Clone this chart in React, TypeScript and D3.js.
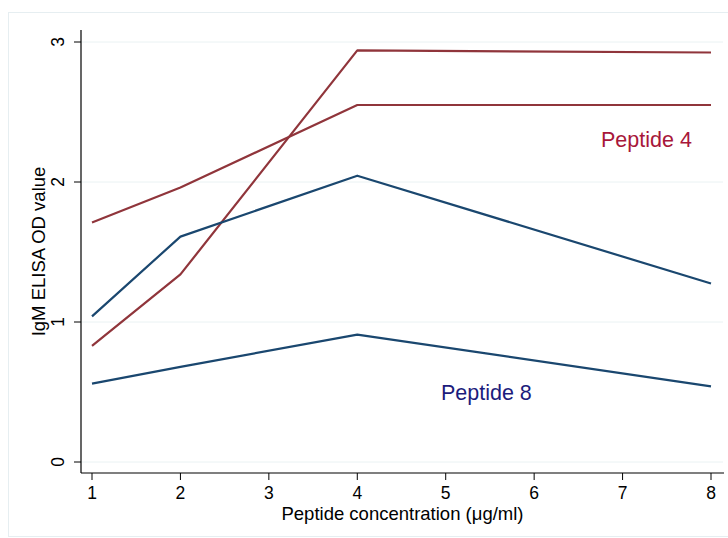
import * as d3 from "d3";

const conc = [1, 2, 4, 8];
const xTicks = [1, 2, 3, 4, 5, 6, 7, 8];
const yTicks = [0, 1, 2, 3];

// two runs per peptide, OD
const pep4a = [0.83, 1.34, 2.94, 2.925];
const pep4b = [1.71, 1.96, 2.55, 2.55];
const pep8a = [1.04, 1.61, 2.045, 1.275];
const pep8b = [0.56, 0.68, 0.91, 0.54];

const RED = "#90353b";
const BLUE = "#1a476f";

const x = d3.scaleLinear().domain([1, 8]).range([92, 711]);
const y = d3.scaleLinear().domain([0, 3]).range([462, 42]);

const line = d3.line<number>()
  .x((_v, i) => x(conc[i]))
  .y((v) => y(v));

const series = [
  { vals: pep4a, color: RED },
  { vals: pep4b, color: RED },
  { vals: pep8a, color: BLUE },
  { vals: pep8b, color: BLUE },
];

export default function App() {
  const left = 81, right = 724, top = 30, bottom = 473;
  const font = "'Liberation Sans', Arial, sans-serif";
  return (
    <svg width={728} height={538} style={{ position: "absolute", left: 0, top: 0 }} fontFamily={font}>
      <rect x={0} y={0} width={728} height={538} fill="#fff" />
      <rect x={8.5} y={12.5} width={740} height={524} fill="none" stroke="#e6eef1" strokeWidth={1} />
      {yTicks.map((t) => (
        <line key={"g" + t} x1={left} x2={right - 1} y1={y(t)} y2={y(t)} stroke="#eaf2f3" strokeWidth={1} />
      ))}
      {series.map((s, i) => (
        <path key={i} d={line(s.vals) || ""} fill="none" stroke={s.color} strokeWidth={2.2} strokeLinejoin="round" />
      ))}
      {/* y axis */}
      <line x1={left} x2={left} y1={top} y2={bottom} stroke="#000" strokeWidth={1.2} />
      {yTicks.map((t) => (
        <g key={"y" + t}>
          <line x1={left - 7} x2={left} y1={y(t)} y2={y(t)} stroke="#000" strokeWidth={1} />
          <text transform={`translate(64,${y(t)}) rotate(-90)`} textAnchor="middle" fontSize={17.5} fill="#000">{t}</text>
        </g>
      ))}
      <text transform={`translate(45,${(top + bottom) / 2}) rotate(-90)`} textAnchor="middle" fontSize={18.5} fill="#000">IgM ELISA OD value</text>
      {/* x axis */}
      <line x1={left} x2={right} y1={bottom} y2={bottom} stroke="#000" strokeWidth={1.2} />
      {xTicks.map((t) => (
        <g key={"x" + t}>
          <line x1={x(t)} x2={x(t)} y1={bottom} y2={bottom + 7} stroke="#000" strokeWidth={1} />
          <text x={x(t)} y={499} textAnchor="middle" fontSize={17.5} fill="#000">{t}</text>
        </g>
      ))}
      <text x={(left + right) / 2} y={520} textAnchor="middle" fontSize={18.5} fill="#000">Peptide concentration (μg/ml)</text>
      <text x={x(7.27)} y={y(2.25)} textAnchor="middle" fontSize={21.5} fill="#a8173a">Peptide 4</text>
      <text x={x(5.46)} y={y(0.445)} textAnchor="middle" fontSize={21.5} fill="#1c1c7c">Peptide 8</text>
    </svg>
  );
}
